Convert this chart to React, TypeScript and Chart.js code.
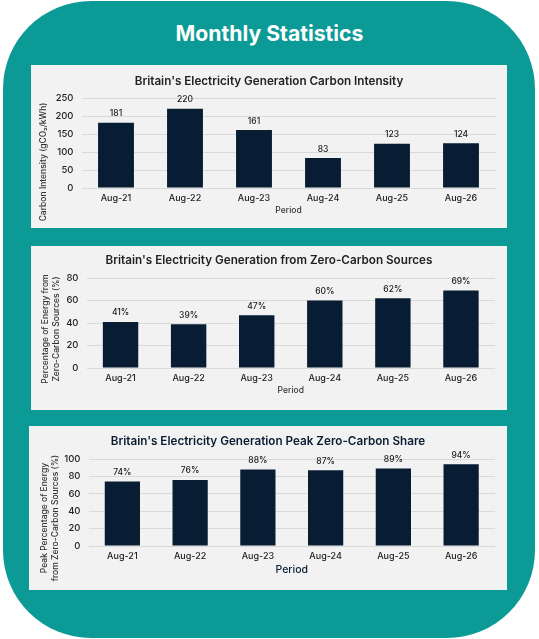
// @ts-nocheck
import { useEffect, useRef } from "react";
import { Chart, registerables } from "chart.js";

Chart.register(...registerables);

const FONT = "Inter";
const NAVY = "#081d33";
const TITLE_SIZE = 11.7;

const periods = ["Aug-21", "Aug-22", "Aug-23", "Aug-24", "Aug-25", "Aug-26"];
const carbonIntensity = [181, 220, 161, 83, 123, 124];
const zeroCarbonShare = [41, 39, 47, 60, 62, 69];
const peakZeroCarbonShare = [74, 76, 88, 87, 89, 94];

// draws the value above each bar and the y axis title, which sits lower than the plot centre
const panelText = {
  id: "panelText",
  afterDatasetsDraw(chart, _args, opts) {
    const { ctx } = chart;
    const meta = chart.getDatasetMeta(0);
    ctx.save();
    ctx.textAlign = "center";
    ctx.textBaseline = "middle";
    ctx.fillStyle = "#1a1a1a";
    ctx.font = `500 8.5px ${FONT}`;
    meta.data.forEach((bar, i) => {
      const v = chart.data.datasets[0].data[i];
      ctx.fillText(`${v}${opts.suffix}`, bar.x, bar.y - 9);
    });
    ctx.restore();

    ctx.save();
    ctx.fillStyle = "#333";
    ctx.font = `500 8.5px ${FONT}`;
    ctx.textAlign = "center";
    ctx.textBaseline = "middle";
    ctx.translate(opts.yTitleX, opts.yTitleY);
    ctx.rotate(-Math.PI / 2);
    opts.yTitle.forEach((line, i) => ctx.fillText(line, 0, i * 11));
    ctx.restore();
  },
};

function Panel({ left, top, width, height, plot, title, titleColor, titleTop, values, max, step, suffix, yTitle, yTitleX, yTitleY, xTitleFont, xTitleColor, xTitlePad }) {
  const canvasRef = useRef(null);

  useEffect(() => {
    const chart = new Chart(canvasRef.current, {
      type: "bar",
      data: {
        labels: periods,
        datasets: [
          {
            data: values,
            backgroundColor: NAVY,
            barPercentage: 0.52,
            categoryPercentage: 1,
          },
        ],
      },
      plugins: [panelText],
      options: {
        animation: false,
        responsive: false,
        plugins: {
          legend: { display: false },
          tooltip: { enabled: false },
          title: {
            display: true,
            text: title,
            color: titleColor,
            font: { family: FONT, size: TITLE_SIZE, weight: "600" },
            padding: { top: titleTop, bottom: plot.top - titleTop - TITLE_SIZE * 1.2 },
          },
          panelText: { suffix, yTitle, yTitleX, yTitleY },
        },
        scales: {
          x: {
            afterFit: (scale) => {
              scale.height = height - plot.bottom;
            },
            grid: { display: false, drawTicks: false },
            border: { display: false },
            ticks: {
              color: "#222",
              font: { family: FONT, size: 9, weight: "500" },
              padding: 5,
              maxRotation: 0,
            },
            title: {
              display: true,
              text: "Period",
              color: xTitleColor,
              font: { family: FONT, size: xTitleFont, weight: "500" },
              padding: { top: 0, bottom: xTitlePad },
            },
          },
          y: {
            min: 0,
            max,
            afterFit: (scale) => {
              scale.width = plot.left;
            },
            grid: { color: "#d9d9d9", lineWidth: 1, drawTicks: false },
            border: { display: false },
            ticks: {
              stepSize: step,
              color: "#222",
              font: { family: FONT, size: 9.5, weight: "500" },
              padding: 8,
            },
          },
          // empty axis that holds the right margin, so the chart title stays centred on the card
          margin: {
            position: "right",
            afterFit: (scale) => {
              scale.width = width - plot.right;
            },
            grid: { display: false },
            border: { display: false },
            ticks: { display: false },
          },
        },
      },
    });

    return () => chart.destroy();
  }, []);

  return (
    <canvas
      ref={canvasRef}
      width={width}
      height={height}
      style={{ position: "absolute", left, top, width, height, background: "#f2f2f2" }}
    />
  );
}

export default function App() {
  return (
    <div style={{ position: "absolute", left: 0, top: 0, width: 539, height: 639, background: "#fff", overflow: "hidden" }}>
      <div style={{ position: "absolute", left: 3, top: 1, width: 532, height: 637, borderRadius: 88, background: "#0b9a96" }} />
      <div
        style={{
          position: "absolute",
          left: 0,
          top: 20,
          width: 539,
          textAlign: "center",
          color: "#fff",
          font: `700 21.2px/26px ${FONT}`,
        }}
      >
        Monthly Statistics
      </div>
      <Panel
        left={31}
        top={65}
        width={476}
        height={163}
        plot={{ left: 50.5, right: 464.5, top: 33, bottom: 123 }}
        title="Britain's Electricity Generation Carbon Intensity"
        titleColor="#222"
        titleTop={9}
        values={carbonIntensity}
        max={250}
        step={50}
        suffix=""
        yTitle={["Carbon Intensity (gCO₂/kWh)"]}
        yTitleX={12}
        yTitleY={97}
        xTitleFont={8.5}
        xTitleColor="#333"
        xTitlePad={12}
      />
      <Panel
        left={31}
        top={246}
        width={476}
        height={164}
        plot={{ left: 55.5, right: 464, top: 32, bottom: 122 }}
        title="Britain's Electricity Generation from Zero-Carbon Sources"
        titleColor="#222"
        titleTop={7}
        values={zeroCarbonShare}
        max={80}
        step={20}
        suffix="%"
        yTitle={["Percentage of Energy from", "Zero-Carbon Sources (%)"]}
        yTitleX={14}
        yTitleY={83}
        xTitleFont={8.5}
        xTitleColor="#333"
        xTitlePad={14}
      />
      <Panel
        left={29}
        top={426}
        width={478}
        height={164}
        plot={{ left: 59.5, right: 466, top: 33, bottom: 120 }}
        title="Britain's Electricity Generation Peak Zero-Carbon Share"
        titleColor={NAVY}
        titleTop={8}
        values={peakZeroCarbonShare}
        max={100}
        step={20}
        suffix="%"
        yTitle={["Peak Percentage of Energy", "from Zero-Carbon Sources (%)"]}
        yTitleX={15}
        yTitleY={92}
        xTitleFont={10.5}
        xTitleColor={NAVY}
        xTitlePad={14}
      />
    </div>
  );
}
